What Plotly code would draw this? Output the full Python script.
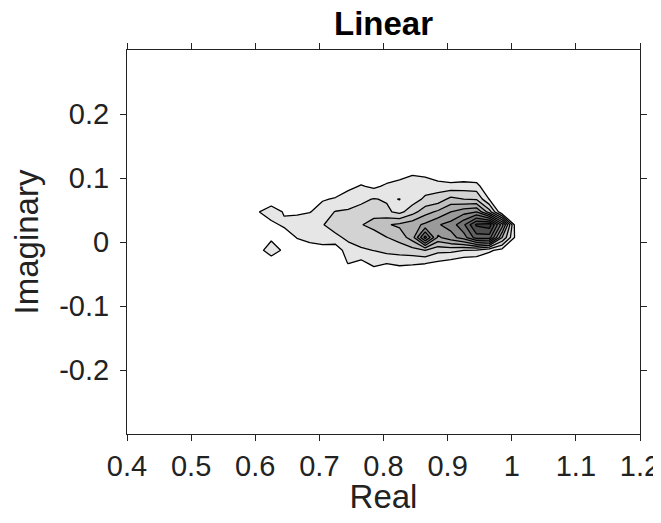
import plotly.graph_objects as go

# grid node positions (data coordinates)
x_nodes = [0.585, 0.605, 0.625, 0.645, 0.665, 0.685, 0.705, 0.725, 0.745, 0.765,
           0.785, 0.805, 0.825, 0.845, 0.865, 0.885, 0.905, 0.925, 0.945, 0.965,
           0.985, 1.005, 1.025]
y_nodes = [-0.053, -0.033, -0.013, 0.007, 0.027, 0.047, 0.067, 0.087, 0.107, 0.127]

# density values, one row per y node (bottom to top)
row_m053 = [0, 0, 0, 0, 0, 0, 0, 0, 0, 0, 0.2, 0, 0, 0, 0, 0, 0, 0, 0, 0, 0, 0, 0]
row_m033 = [0, 0, 0, 0.2, 0, 0, 0, 0.2, 1.05, 0.7, 1.3, 1.05, 1.26, 1.15, 1.05, 0.8, 0.5, 0.2, 0.1, 0, 0, 0, 0]
row_m013 = [0, 0.5, 1.8, 0.7, 0.2, 0.4, 0.6, 0.3, 1.6, 1.85, 2.02, 2.32, 2.4, 2.6, 3.0, 2.3, 2.3, 2.0, 1.9, 1.2, 0.6, 0, 0]
row_p007 = [0, 0.2, 0.7, 0.3, 1.05, 1.4, 1.5, 1.78, 2.2, 2.5, 2.55, 2.97, 3.4, 4.5, 8.4, 4.8, 5.6, 6.5, 8.5, 8.5, 4.0, 0.9, 0]
row_p027 = [0, 0.3, 0.7, 1.2, 1.6, 1.8, 1.95, 2.4, 2.6, 2.95, 3.3, 3.9, 4.2, 4.6, 5.2, 5.9, 6.4, 7.8, 10.2, 10.6, 6.5, 0.7, 0]
row_p047 = [0, 0.95, 1.6, 0.9, 0.8, 0.95, 1.5, 2.05, 2.1, 2.3, 2.7, 2.2, 1.7, 2.6, 3.6, 4.2, 5.0, 5.6, 6.0, 3.5, 0, 0, 0]
row_p067 = [0, 0.2, 0.3, 0.1, 0.1, 0.2, 0.9, 1.1, 1.6, 1.8, 2.05, 1.9, 2.02, 1.5, 2.2, 2.4, 3.3, 3.0, 2.9, 0.95, 0, 0, 0]
row_p087 = [0, 0, 0, 0, 0, 0, 0, 0.3, 0.7, 1.1, 0.8, 1.2, 1.2, 1.3, 1.5, 1.6, 1.4, 1.5, 1.4, 0, 0, 0, 0]
row_p107 = [0, 0, 0, 0, 0, 0, 0, 0, 0, 0.2, 0.1, 0.3, 0.8, 0.95, 0.8, 0.1, 0, 0.1, 0.05, 0, 0, 0, 0]
row_p127 = [0] * 23

z_rows = [row_m053, row_m033, row_m013, row_p007, row_p027,
          row_p047, row_p067, row_p087, row_p107, row_p127]

x_ticks = [0.4, 0.5, 0.6, 0.7, 0.8, 0.9, 1.0, 1.1, 1.2]
x_ticktext = ['0.4', '0.5', '0.6', '0.7', '0.8', '0.9', '1', '1.1', '1.2']
y_ticks = [-0.2, -0.1, 0, 0.1, 0.2]
y_ticktext = ['-0.2', '-0.1', '0', '0.1', '0.2']

# band colours (white below first level, darkening greys)
band_grays = [255, 230, 211, 192, 173, 154, 135, 116, 97, 78, 59]
colorscale = [[k / 10, f'rgb({g},{g},{g})'] for k, g in enumerate(band_grays)]

FONT = 'Liberation Sans, Arial, Helvetica, sans-serif'
TXT = '#222222'

fig = go.Figure(go.Contour(
    x=x_nodes, y=y_nodes, z=z_rows,
    contours=dict(start=1, end=10, size=1, coloring='fill', showlines=True),
    line=dict(color='black', width=1.3, smoothing=0),
    colorscale=colorscale, zmin=0.5, zmax=10.5, zauto=False,
    showscale=False, hoverinfo='skip',
))

axis_common = dict(
    automargin=False,
    showline=True, linecolor='#222222', linewidth=1, mirror='allticks',
    ticks='outside', ticklen=6, tickwidth=1, tickcolor='#222222',
    showgrid=False, zeroline=False,
    tickfont=dict(family=FONT, size=29, color=TXT),
)

fig.update_layout(
    template='none',
    width=653, height=507,
    margin=dict(l=119, r=21, t=42, b=81, autoexpand=False),
    paper_bgcolor='white', plot_bgcolor='white',
    title=dict(text='<b>Linear</b>', x=0.5, xref='paper', xanchor='center',
               y=0.993, yref='container', yanchor='top',
               font=dict(family=FONT, size=33, color='black')),
    xaxis=dict(range=[0.4, 1.2], tickvals=x_ticks, ticktext=x_ticktext,
               ticklabelstandoff=0,
               title=dict(text='Real', standoff=4,
                          font=dict(family=FONT, size=33, color=TXT)),
               **axis_common),
    yaxis=dict(range=[-0.3, 0.3], tickvals=y_ticks, ticktext=y_ticktext,
               ticklabelstandoff=5,
               title=dict(text='Imaginary', standoff=11,
                          font=dict(family=FONT, size=33, color=TXT)),
               **axis_common),
)

fig.write_html('out.html')
